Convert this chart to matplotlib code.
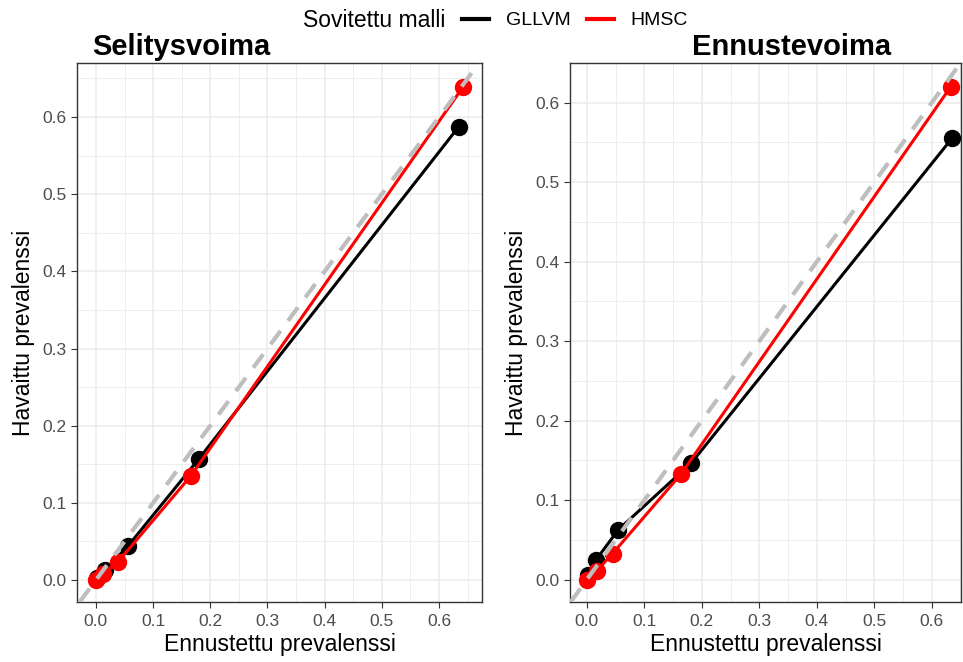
import numpy as np
import matplotlib.pyplot as plt
from matplotlib.lines import Line2D
from matplotlib.ticker import MultipleLocator

plt.rcParams['font.family'] = ['Liberation Sans', 'DejaVu Sans']

# Selitysvoima (explanatory power)
sel_gllvm_x = [0.002, 0.016, 0.056, 0.180, 0.634]
sel_gllvm_y = [0.003, 0.013, 0.044, 0.157, 0.587]
sel_hmsc_x = [0.000, 0.012, 0.038, 0.166, 0.642]
sel_hmsc_y = [0.000, 0.008, 0.023, 0.135, 0.639]

# Ennustevoima (predictive power)
enn_gllvm_x = [0.003, 0.016, 0.055, 0.182, 0.635]
enn_gllvm_y = [0.006, 0.025, 0.063, 0.147, 0.555]
enn_hmsc_x = [0.000, 0.017, 0.045, 0.164, 0.633]
enn_hmsc_y = [0.000, 0.011, 0.033, 0.133, 0.620]

models = ['GLLVM', 'HMSC']
colors = {'GLLVM': 'black', 'HMSC': '#FF0000'}

# title, data, axes rect, xlim, ylim, title x (axes fraction)
panels = [
    ('Selitysvoima', sel_gllvm_x, sel_gllvm_y, sel_hmsc_x, sel_hmsc_y,
     [0.080, 0.0906, 0.4205, 0.8143], (-0.033, 0.675), (-0.0285, 0.670), 0.037),
    ('Ennustevoima', enn_gllvm_x, enn_gllvm_y, enn_hmsc_x, enn_hmsc_y,
     [0.592, 0.0906, 0.406, 0.8143], (-0.029, 0.651), (-0.028, 0.650), 0.313),
]

fig = plt.figure(figsize=(9.63, 6.62), dpi=100)

for title, gx, gy, hx, hy, pos, xlim, ylim, tx in panels:
    ax = fig.add_axes(pos)
    ax.set_xlim(*xlim)
    ax.set_ylim(*ylim)
    ax.xaxis.set_major_locator(MultipleLocator(0.1))
    ax.yaxis.set_major_locator(MultipleLocator(0.1))
    ax.xaxis.set_minor_locator(MultipleLocator(0.05))
    ax.yaxis.set_minor_locator(MultipleLocator(0.05))
    ax.grid(True, which='major', color='#EBEBEB', linewidth=1.1)
    ax.grid(True, which='minor', color='#EBEBEB', linewidth=0.6)
    ax.set_axisbelow(True)
    ax.tick_params(which='minor', length=0)
    ax.tick_params(which='major', length=4, width=0.8, color='#333333',
                   labelsize=12.5, labelcolor='#4D4D4D')
    ax.tick_params(axis='x', pad=4.5)
    ax.tick_params(axis='y', pad=3.5)
    for s in ax.spines.values():
        s.set_color('#333333')
        s.set_linewidth(1.0)

    ax.plot(gx, gy, '-o', color=colors['GLLVM'], lw=2.2, ms=11.5, zorder=3)
    ax.plot(hx, hy, '-o', color=colors['HMSC'], lw=2.2, ms=11.5, zorder=4)
    ax.axline((0, 0), slope=1, color='#BEBEBE', lw=3, ls=(0, (4, 3)), zorder=5)

    ax.set_xlabel('Ennustettu prevalenssi', fontsize=16.5, labelpad=3)
    ax.set_ylabel('Havaittu prevalenssi', fontsize=16.5, labelpad=5)
    ax.set_title(title, fontsize=21, fontweight='bold', loc='left',
                 x=tx, pad=6)

fig.text(303 / 963, 0.969, 'Sovitettu malli', fontsize=16.5,
         ha='left', va='center')
handles = [Line2D([], [], color=colors[m], lw=3) for m in models]
fig.legend(handles, models, loc='center left', ncol=2,
           bbox_to_anchor=(462 / 963, 0.969), frameon=False, fontsize=14,
           handlelength=1.4, handletextpad=0.85, columnspacing=0.85,
           borderpad=0, borderaxespad=0)

fig.savefig('out.png', dpi=100)
